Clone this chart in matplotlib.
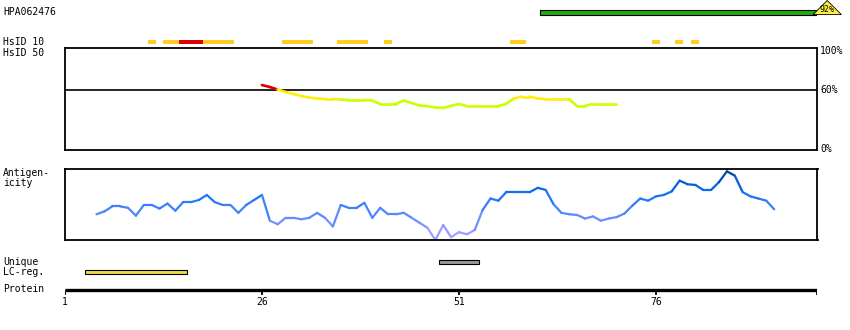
import numpy as np
import matplotlib
matplotlib.use('Agg')
import matplotlib.pyplot as plt
from matplotlib.collections import LineCollection
from matplotlib.colors import LinearSegmentedColormap

# protein / antigen
prot_len = 96.5
antigen_id = 'HPA062476'
antigen_span = [61.3, 96.5]
antigen_ident = 92

# HsID 10 segments (start, end, colour class)
hsid10 = [(11.5, 12.5, 'o'), (13.5, 15.5, 'o'), (15.5, 18.5, 'r'), (18.5, 22.5, 'o'),
          (28.5, 32.5, 'o'), (35.5, 39.5, 'o'), (41.5, 42.5, 'o'), (57.5, 59.5, 'o'),
          (75.5, 76.5, 'o'), (78.5, 79.5, 'o'), (80.5, 81.5, 'o')]

# HsID 50 identity (%), residues 26..71
hs50_start = 26
hs50 = [65, 63, 60.5, 58, 56, 54, 52.5, 51.5, 51, 51, 50.5, 50, 50, 50, 49.5, 46, 46, 46,
        49.5, 47, 44.5, 44, 42.5, 42, 44, 46, 44, 44, 44, 44, 44, 46, 51.5, 53.5, 53.5,
        51.5, 51, 51, 51, 51, 44, 44, 46, 46, 46, 46]

# antigenicity, residues 5..91 (relative scale)
ag_start = 5
antig = [.36, .40, .47, .47, .45, .34, .49, .49, .44, .51, .41, .53, .53, .56, .63, .53,
         .49, .49, .38, .49, .56, .63, .27, .22, .31, .31, .29, .31, .38, .31, .19, .49,
         .45, .45, .52, .31, .45, .36, .36, .38, .31, .24, .17, 0.0, .21, .04, .11, .08,
         .14, .42, .58, .55, .67, .67, .67, .67, .73, .70, .50, .38, .36, .35, .30, .33,
         .27, .30, .32, .37, .48, .58, .55, .61, .63, .68, .83, .78, .77, .70, .70, .81,
         .96, .90, .67, .61, .58, .55, .43]

unique_reg = [48.5, 53.5]
lc_reg = [3.5, 16.5]
ticks = [1, 26, 51, 76]

W, H = 850, 330
fig = plt.figure(figsize=(W / 100, H / 100), dpi=100)
FS = 7
FONT = 'DejaVu Sans Mono'

def pax(x0, y0, x1, y1):
    a = fig.add_axes([x0 / W, 1 - y1 / H, (x1 - x0) / W, (y1 - y0) / H])
    a.set_xlim(1, prot_len)
    return a

def bare(a):
    for s in a.spines.values():
        s.set_visible(False)
    a.set_xticks([])
    a.set_yticks([])
    a.patch.set_alpha(0)

# top strip: antigen bar + HsID 10
top = pax(65, 0, 817, 48)
top.set_ylim(48, 0)
bare(top)
top.barh(12.3, antigen_span[1] - antigen_span[0], left=antigen_span[0], height=4.5,
         color='#22aa11', edgecolor='black', linewidth=0.8)
e = antigen_span[1]
top.fill([e - 0.5, e + 1.3, e + 3.1], [14.6, 0.5, 14.6], color='#ffee44',
         edgecolor='black', linewidth=0.6, clip_on=False, zorder=3)
top.text(e + 1.3, 9.5, f'{antigen_ident}%', fontsize=6, family=FONT,
         ha='center', va='center', clip_on=False, zorder=4)
cols10 = {'o': '#ffcc22', 'r': '#dd0000'}
for s, t, c in hsid10:
    top.barh(42, t - s, left=s, height=4.6, color=cols10[c], linewidth=0)

# HsID 50 panel
hp = pax(65, 48, 817, 150)
hp.set_ylim(0, 102)
for s in hp.spines.values():
    s.set_linewidth(1.3)
hp.set_xticks([])
hp.set_yticks([])
hp.axhline(60, color='black', linewidth=1.2)
x50 = np.arange(hs50_start, hs50_start + len(hs50))
y50 = np.array(hs50, dtype=float)
seg50 = np.stack([np.column_stack([x50[:-1], y50[:-1]]),
                  np.column_stack([x50[1:], y50[1:]])], axis=1)
mid50 = (y50[:-1] + y50[1:]) / 2
c50 = ['#dd0000' if m > 60 else '#ffee11' if m > 50.6 else '#ccff00' for m in mid50]
hp.add_collection(LineCollection(seg50, colors=c50, linewidths=1.9, capstyle='round'))
for v, lab in [(99, '100%'), (60, '60%'), (1, '0%')]:
    hp.text(1.004, v / 102, lab, transform=hp.transAxes, fontsize=FS, family=FONT,
            va='center', ha='left')

# antigenicity panel
ap = pax(65, 168.5, 817.5, 240)
ap.set_ylim(0, 1)
for s in ap.spines.values():
    s.set_linewidth(1.3)
ap.set_xticks([])
ap.set_yticks([])
cmap = LinearSegmentedColormap.from_list('ag', [(0, '#b4a8ff'), (0.3, '#6a8cff'),
                                                (0.55, '#2a78ff'), (0.75, '#0066e8'),
                                                (1.0, '#003a80')])
xa = np.arange(ag_start, ag_start + len(antig))
ya = np.array(antig)
sega = np.stack([np.column_stack([xa[:-1], ya[:-1]]),
                 np.column_stack([xa[1:], ya[1:]])], axis=1)
mida = (ya[:-1] + ya[1:]) / 2
ap.add_collection(LineCollection(sega, colors=cmap(mida), linewidths=1.6, capstyle='round'))

# bottom strip: unique, LC-reg, protein axis
bt = pax(65, 250, 817.5, 310)
bt.set_ylim(310, 250)
bare(bt)
bt.barh(262.3, unique_reg[1] - unique_reg[0], left=unique_reg[0], height=4.2,
        color='#999999', edgecolor='black', linewidth=0.8)
bt.barh(272.3, lc_reg[1] - lc_reg[0], left=lc_reg[0], height=4.2,
        color='#eedd44', edgecolor='black', linewidth=0.8)
bt.plot([1, prot_len], [289.5, 289.5], color='black', linewidth=2.4, solid_capstyle='butt')
for t in ticks + [prot_len - 0.1]:
    bt.plot([t, t], [289.5, 294.5], color='black', linewidth=1.3, solid_capstyle='butt')
for t in ticks:
    bt.text(t, 302, str(t), fontsize=FS, family=FONT, ha='center', va='center')

# left labels
for y, lab in [(12, antigen_id), (42, 'HsID 10'), (52.5, 'HsID 50'), (173, 'Antigen-'),
               (183, 'icity'), (262, 'Unique'), (272, 'LC-reg.'), (289.5, 'Protein')]:
    fig.text(3 / W, 1 - y / H, lab, fontsize=FS, family=FONT, va='center', ha='left')

fig.savefig('out.png', dpi=100)
